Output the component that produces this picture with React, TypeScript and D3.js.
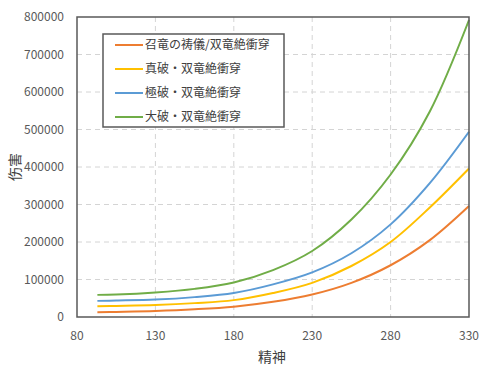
import React from "react";
import * as d3 from "d3";

const spirit = [93, 105, 130, 155, 180, 205, 230, 255, 280, 305, 330];
const seriesNames = ["召竜の祷儀/双竜絶衝穿", "真破・双竜絶衝穿", "極破・双竜絶衝穿", "大破・双竜絶衝穿"];
const orangeVals = [12500, 13500, 16000, 20500, 27500, 40500, 60000, 91000, 138000, 205000, 296000];
const yellowVals = [28500, 29500, 32000, 37000, 45000, 64000, 91000, 136000, 200000, 292000, 396000];
const blueVals = [43000, 44000, 46500, 53000, 64000, 87000, 119000, 170000, 247000, 357000, 494000];
const greenVals = [59000, 60000, 65500, 75000, 92000, 125000, 176000, 260000, 380000, 548000, 792000];
const colors = ["#ED7D31", "#FFC000", "#5B9BD5", "#70AD47"];
const xTicks = [80, 130, 180, 230, 280, 330];
const yTicks = [0, 100000, 200000, 300000, 400000, 500000, 600000, 700000, 800000];

export default function App() {
  const W = 499, H = 376;
  const L = 77, R = 469, T = 17, B = 317;
  const x = d3.scaleLinear().domain([80, 330]).range([L, R]);
  const y = d3.scaleLinear().domain([0, 800000]).range([B, T]);
  const all = [orangeVals, yellowVals, blueVals, greenVals];
  const line = d3
    .line<number>()
    .x((_, i) => x(spirit[i]))
    .y((v) => y(v))
    .curve(d3.curveCatmullRom.alpha(0.5));
  const font = "'Noto Sans CJK SC', 'Noto Sans', sans-serif";
  const lgX = 103, lgY = 34, lgW = 181, lgH = 93;
  const rowY = [45, 69, 93, 117];
  return (
    <svg width={W} height={H} style={{ position: "absolute", left: 0, top: 0, background: "#fff" }} fontFamily={font}>
      <rect x={0} y={0} width={W} height={H} fill="#fff" />
      {xTicks.slice(1, -1).map((t) => (
        <line key={"vx" + t} x1={x(t)} x2={x(t)} y1={T} y2={B} stroke="#d4d4d4" strokeWidth={1} strokeDasharray="5,4" />
      ))}
      {yTicks.slice(1, -1).map((t) => (
        <line key={"hy" + t} x1={L} x2={R} y1={y(t)} y2={y(t)} stroke="#d4d4d4" strokeWidth={1} strokeDasharray="5,4" />
      ))}
      {all.map((vals, i) => (
        <path key={"s" + i} d={line(vals) || ""} fill="none" stroke={colors[i]} strokeWidth={2} />
      ))}
      <rect x={L} y={T} width={R - L} height={B - T} fill="none" stroke="#595959" strokeWidth={1.5} />
      {yTicks.map((t) => (
        <text key={"yl" + t} x={64} y={y(t)} dy="0.35em" textAnchor="end" fontSize={12} fill="#595959">
          {t}
        </text>
      ))}
      {xTicks.map((t) => (
        <text key={"xl" + t} x={x(t)} y={336} dy="0.35em" textAnchor="middle" fontSize={12} fill="#595959">
          {t}
        </text>
      ))}
      <text x={272} y={357} dy="0.35em" textAnchor="middle" fontSize={14} fill="#404040">精神</text>
      <text transform={`translate(15,167) rotate(-90)`} dy="0.35em" textAnchor="middle" fontSize={14} fill="#404040">伤害</text>
      <rect x={lgX} y={lgY} width={lgW} height={lgH} fill="#fff" stroke="#595959" strokeWidth={1.5} />
      {seriesNames.map((n, i) => (
        <g key={"lg" + i}>
          <line x1={115} x2={143} y1={rowY[i]} y2={rowY[i]} stroke={colors[i]} strokeWidth={2} />
          <text x={145} y={rowY[i]} dy="0.35em" fontSize={12} fill="#404040">{n}</text>
        </g>
      ))}
    </svg>
  );
}
